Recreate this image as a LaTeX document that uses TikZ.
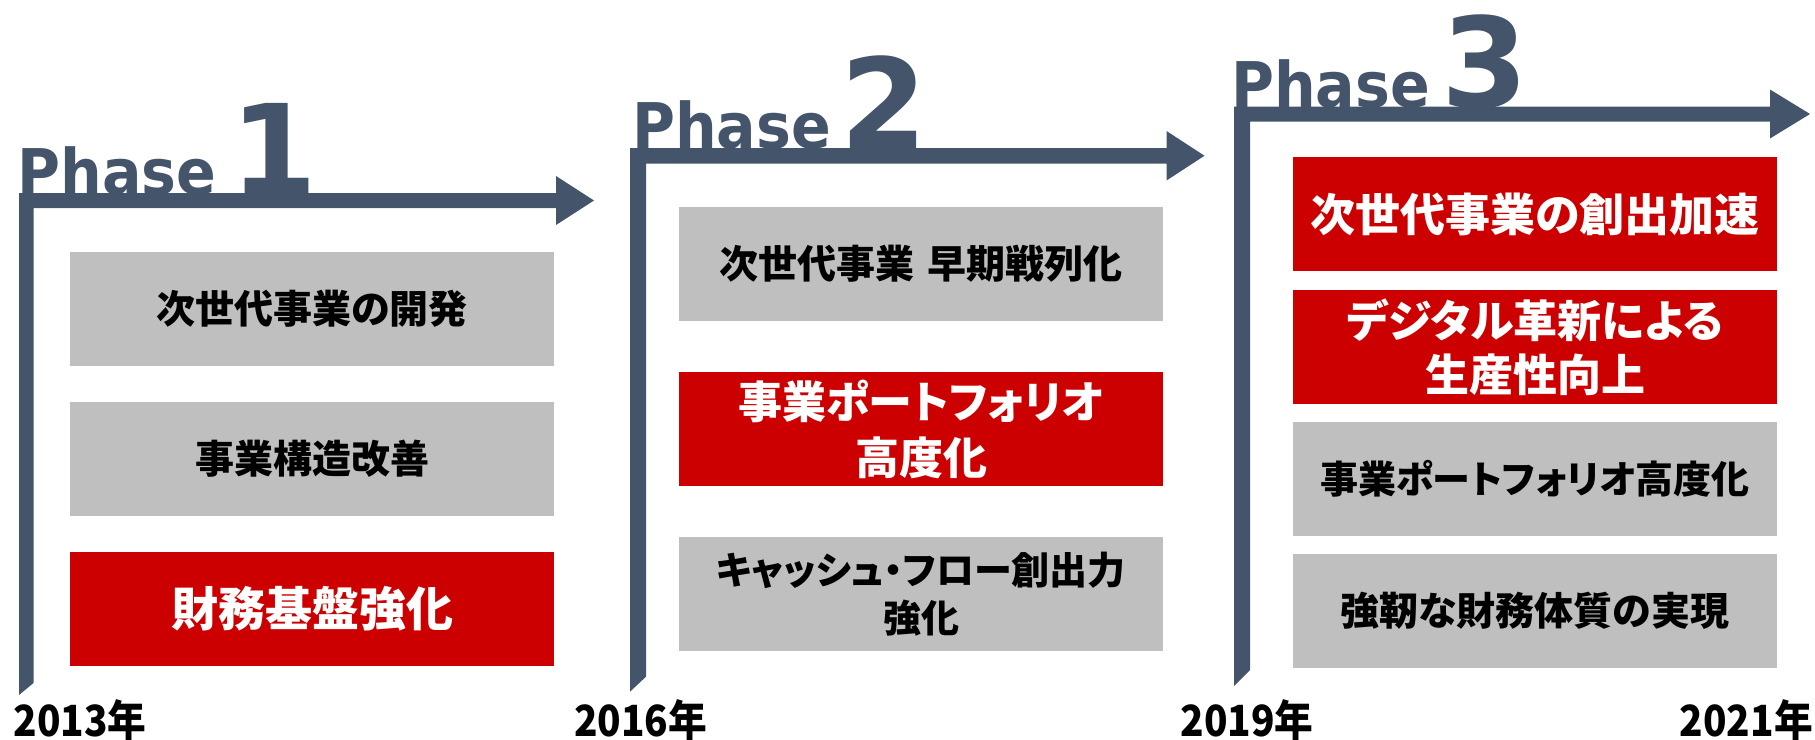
\documentclass[tikz,border=0pt]{standalone}
\usepackage{fontspec}
\setmainfont{DejaVu Sans}
\newfontfamily\jp{Noto Sans CJK JP}[RawFeature=+palt]
\newfontfamily\jpn{Noto Sans CJK JP}
\definecolor{navy}{HTML}{44546A}
\definecolor{boxgray}{HTML}{BFBFBF}
\definecolor{boxred}{HTML}{CC0000}
\begin{document}
\begin{tikzpicture}[x=1pt,y=-1pt,
  box/.style={minimum width=484pt, minimum height=114pt, inner sep=0pt, align=center},
  graybox/.style={box, fill=boxgray, text=black, font=\jp\bfseries\fontsize{39}{48}\selectfont},
  redbox/.style={box, fill=boxred, text=white, font=\jp\bfseries\fontsize{44}{56}\selectfont},
  phasetxt/.style={text=navy, inner sep=0pt, anchor=base, font=\bfseries\fontsize{63}{63}\selectfont},
  phasenum/.style={text=navy, inner sep=0pt, anchor=base, font=\bfseries\fontsize{125}{125}\selectfont},
  yeartxt/.style={text=black, inner sep=0pt, anchor=base, font=\jpn\bfseries\fontsize{43}{43}\selectfont},
  bar/.style={fill=navy}]
\useasboundingbox (0,0) rectangle (1815,739);

% Phase 1
\fill[bar] (19,695) -- (19,193) -- (556,193) -- (556,176) -- (594,200.5) -- (556,225) -- (556,208) -- (33.5,208) -- (33.5,683) -- cycle;
\node[phasetxt] (p1) at (117,194) {\scalebox{0.93}[1]{Phase}};
\node[phasenum] (n1) at (274,194) {1};
\node[graybox] (a1) at (312,309) {次世代事業の開発};
\node[graybox] (a2) at (312,459) {事業構造改善};
\node[redbox, font=\jp\bfseries\fontsize{47}{56}\selectfont] (a3) at (312,609) {財務基盤強化};
\node[yeartxt] (y1) at (80,736) {\scalebox{0.9}[1]{2013年}};

% Phase 2
\fill[bar] (630,691.7) -- (630,148) -- (1166.5,148) -- (1166.5,131) -- (1204.5,155.75) -- (1166.5,180.5) -- (1166.5,163.5) -- (646,163.5) -- (646,676.7) -- cycle;
\node[phasetxt] (p2) at (731.5,148.5) {\scalebox{0.93}[1]{Phase}};
\node[phasenum] (n2) at (884,148.5) {2};
\node[graybox] (b1) at (921,264) {次世代事業\hspace{0.35em}早期戦列化};
\node[redbox] (b2) at (921,429) {事業ポートフォリオ\\高度化};
\node[graybox, font=\jp\bfseries\fontsize{38}{47.5}\selectfont] (b3) at (921,594) {キャッシュ・フロー創出力\\強化};
\node[yeartxt] (y2) at (640.5,736) {\scalebox{0.9}[1]{2016年}};

% Phase 3
\fill[bar] (1234,686) -- (1234,106.5) -- (1770,106.5) -- (1770,89.5) -- (1810,114) -- (1770,138.5) -- (1770,121.5) -- (1250,121.5) -- (1250,670) -- cycle;
\node[phasetxt] (p3) at (1330.5,107) {\scalebox{0.93}[1]{Phase}};
\node[phasenum] (n3) at (1485,107) {3};
\node[redbox, font=\jp\bfseries\fontsize{45}{56}\selectfont] (c1) at (1535,214) {次世代事業の創出加速};
\node[redbox, font=\jp\bfseries\fontsize{44}{54}\selectfont] (c2) at (1535,347) {デジタル革新による\\生産性向上};
\node[graybox, font=\jp\bfseries\fontsize{38}{47}\selectfont] (c3) at (1535,479) {事業ポートフォリオ高度化};
\node[graybox] (c4) at (1535,611) {強靭な財務体質の実現};
\node[yeartxt] (y3) at (1247,736) {\scalebox{0.9}[1]{2019年}};
\node[yeartxt, anchor=base east] (y4) at (1813,736) {\scalebox{0.9}[1]{2021年}};
\end{tikzpicture}
\end{document}
